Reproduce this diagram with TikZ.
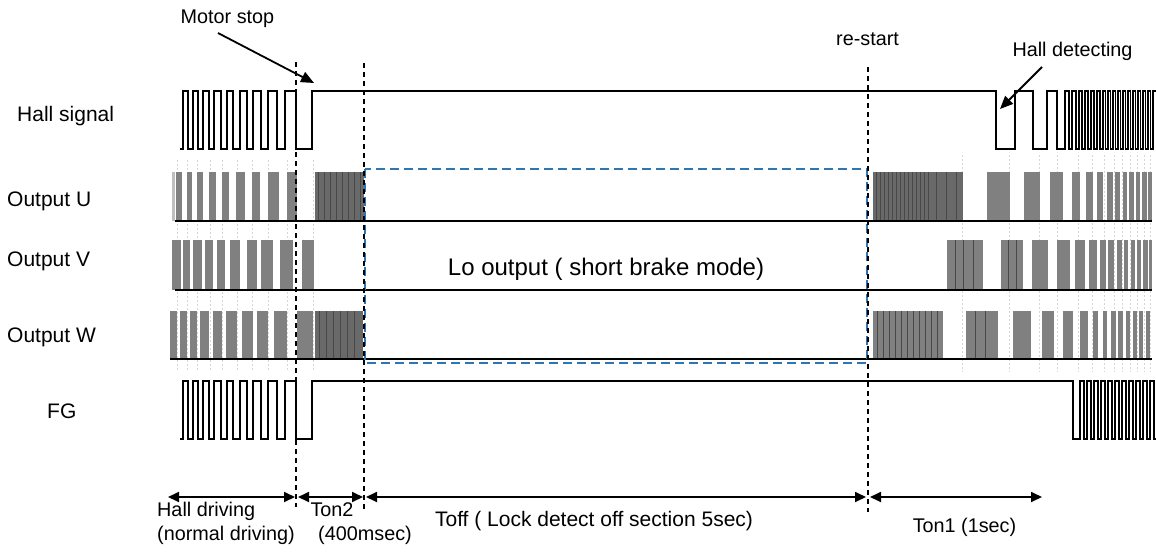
\documentclass[tikz,border=0pt]{standalone}
\usepackage{fontspec}
\setmainfont{Liberation Sans}
\usetikzlibrary{arrows.meta}
\definecolor{bluedash}{RGB}{46,117,182}
\definecolor{pwmgray}{RGB}{128,128,128}
\definecolor{densegray}{RGB}{105,105,105}
\definecolor{stripegray}{RGB}{72,72,72}
\begin{document}
\begin{tikzpicture}[x=1pt,y=-1pt,
 wave/.style={line width=1.25pt, line join=miter},
 baseln/.style={line width=1.5pt},
 vdash/.style={line width=1.2pt, dash pattern=on 5pt off 4pt},
 faint/.style={line width=0.8pt, black!16, dash pattern=on 1.5pt off 2.5pt},
 pwm/.style={fill=pwmgray},
 dense/.style={fill=densegray},
 stripe/.style={stripegray, line width=1pt},
 lbl/.style={font=\fontsize{21}{24}\selectfont, anchor=base west, inner sep=0pt},
 note/.style={font=\fontsize{19.8}{23}\selectfont, anchor=base, inner sep=0pt},
 notel/.style={font=\fontsize{19.8}{23}\selectfont, anchor=base west, inner sep=0pt},
 dimarrow/.style={line width=1.8pt, {Triangle[length=11pt,width=10pt]}-{Triangle[length=11pt,width=10pt]}},
 callout/.style={line width=1.8pt, -{Triangle[length=13pt,width=11pt]}},
 brake/.style={bluedash, line width=2.4pt, dash pattern=on 9pt off 5pt}
]
\useasboundingbox (0,0) rectangle (1156,552);
\fill[white] (0,0) rectangle (1156,552);

% faint dotted guide lines
\foreach \x in {177,187,197,210,222,237,252,268,287,313}
  \draw[faint] (\x,160) -- (\x,372);
\foreach \x in {962,1009,1039,1057,1078,1092,1104,1114,1122,1130,1137,1144,1150}
  \draw[faint] (\x,155) -- (\x,372);

% ---------- Output U ----------
\foreach \a/\b in {176/182,187/192,197/203,209/216,222/229,236/245,252/260,268/279,287/297,
  987/1010,1024/1040,1050/1063,1072/1080,1086/1093,1097/1103,1107/1113,1115/1120,1123/1127,
  1129/1134,1136/1140,1142/1147,1148/1152}
  \fill[pwm] (\a,172) rectangle (\b,221);
\fill[black!25] (172,172) rectangle (175,221);
\fill[dense] (315,172) rectangle (364,221);
\foreach \x in {318,324,...,360} \draw[stripe] (\x,172) -- (\x,221);
\fill[dense] (873,172) rectangle (963,221);
\foreach \x in {876,880,...,928} \draw[stripe] (\x,172) -- (\x,221);
\foreach \x in {936,946,956} \draw[stripe] (\x,172) -- (\x,221);

% ---------- Output V ----------
\foreach \a/\b in {172/181,183/190,193/202,205/213,217/225,230/240,247/257,261/273,280/293,302/314,
  947/983,1001/1023,1032/1048,1057/1070,1075/1085,1089/1097,1100/1106,1108/1114,1117/1122,
  1124/1128,1131/1135,1137/1141,1143/1148,1149/1152}
  \fill[pwm] (\a,240) rectangle (\b,290);
\foreach \x in {955,963,973,1008,1016} \draw[stripe] (\x,240) -- (\x,290);

% ---------- Output W ----------
\foreach \a/\b in {170/177,180/187,190/197,200/209,213/222,226/237,242/253,257/268,274/287,297/313,
  966/998,1013/1031,1042/1054,1063/1073,1080/1088,1093/1098,1103/1107,1111/1116,1118/1123,
  1126/1130,1133/1137,1139/1143,1146/1150}
  \fill[pwm] (\a,311) rectangle (\b,359);
\fill[dense] (315,311) rectangle (363,359);
\foreach \x in {319,326,...,360} \draw[stripe] (\x,311) -- (\x,359);
\fill[pwmgray] (873,311) rectangle (943,359);
\foreach \x in {877,883,...,940} \draw[stripe] (\x,311) -- (\x,359);
\foreach \x in {975,985} \draw[stripe] (\x,311) -- (\x,359);

% baselines of the outputs
\draw[baseln] (175,221) -- (1152,221);
\draw[baseln] (175,290) -- (1152,290);
\draw[baseln] (170,359) -- (1152,359);

% ---------- Hall signal ----------
\draw[wave] (180,149) -- (183,149) -- (183,91) -- (188,91) -- (188,149) -- (193,149) -- (193,91)
 -- (198,91) -- (198,149) -- (203,149) -- (203,91) -- (209,91) -- (209,149) -- (214,149)
 -- (214,91) -- (221,91) -- (221,149) -- (227,149) -- (227,91) -- (233,91) -- (233,149)
 -- (240,149) -- (240,91) -- (247,91) -- (247,149) -- (253,149) -- (253,91) -- (261,91)
 -- (261,149) -- (268,149) -- (268,91) -- (277,91) -- (277,149) -- (285,149) -- (285,91)
 -- (296,91) -- (296,149) -- (312,149) -- (312,91) -- (996,91) -- (996,149) -- (1015,149)
 -- (1015,91) -- (1033,91) -- (1033,149) -- (1047,149) -- (1047,91) -- (1057,91) -- (1057,149)
 foreach \r/\f in {1065/1069,1072/1076,1079/1082,1085/1088,1091/1094,1097/1100,1103/1105.5,
   1108/1110.5,1113/1115.5,1118/1120.5,1123/1125.5,1128/1130.5,1133/1135.5,1138/1140.5,
   1143/1145.5,1148/1150.5}
   { -- (\r,149) -- (\r,91) -- (\f,91) -- (\f,149) }
 -- (1153,149) -- (1153,91) -- (1156,91);

% ---------- FG ----------
\draw[wave] (180,439) -- (183,439) -- (183,381) -- (188,381) -- (188,439) -- (193,439) -- (193,381)
 -- (198,381) -- (198,439) -- (203,439) -- (203,381) -- (209,381) -- (209,439) -- (214,439)
 -- (214,381) -- (221,381) -- (221,439) -- (227,439) -- (227,381) -- (233,381) -- (233,439)
 -- (240,439) -- (240,381) -- (247,381) -- (247,439) -- (253,439) -- (253,381) -- (261,381)
 -- (261,439) -- (268,439) -- (268,381) -- (277,381) -- (277,439) -- (285,439) -- (285,381)
 -- (296,381) -- (296,439) -- (312,439) -- (312,381) -- (1073,381) -- (1073,439)
 foreach \r/\f in {1080/1084,1087/1091,1094/1098,1101/1105,1108/1112,1115/1119,1122/1126,
   1129/1133,1136/1140,1143/1147,1150/1154}
   { -- (\r,439) -- (\r,381) -- (\f,381) -- (\f,439) }
 -- (1156,439);

% ---------- blue dashed short-brake box ----------
\draw[brake] (365,169) rectangle (867,363);

% ---------- dashed time markers ----------
\coordinate (stopT) at (296,62);  \coordinate (stopB) at (296,507);
\coordinate (ton2T) at (364,63);  \coordinate (ton2B) at (364,510);
\coordinate (restT) at (868,67);  \coordinate (restB) at (868,512);
\draw[vdash] (stopT) -- (stopB);
\draw[vdash] (ton2T) -- (ton2B);
\draw[vdash] (restT) -- (restB);

% ---------- row labels ----------
\node[lbl] (lhall) at (17,121) {Hall signal};
\node[lbl] (lu) at (7,206) {Output U};
\node[lbl] (lv) at (7,266) {Output V};
\node[lbl] (lw) at (7,342) {Output W};
\node[lbl] (lfg) at (47,418) {FG};

% ---------- annotations ----------
\node[note] (motorstop) at (227.5,23) {Motor stop};
\node[note] (restart) at (867.5,45) {re-start};
\node[note] (halldet) at (1072.5,56) {Hall detecting};
\node[font=\fontsize{24}{28}\selectfont, anchor=base, inner sep=0pt] (lo) at (606,275) {Lo output ( short brake mode)};

\coordinate (msTail) at (218,33); \coordinate (msTip) at (314,83);
\draw[callout] (msTail) -- (msTip);
\coordinate (hdTail) at (1042,67); \coordinate (hdTip) at (1000,109);
\draw[callout] (hdTail) -- (hdTip);

% ---------- time-span arrows ----------
\coordinate (hdL) at (168,497); \coordinate (hdR) at (295,497);
\coordinate (t2L) at (298,497); \coordinate (t2R) at (363,497);
\coordinate (toL) at (366,497); \coordinate (toR) at (866,497);
\coordinate (t1L) at (870,497); \coordinate (t1R) at (1042,497);
\draw[dimarrow] (hdL) -- (hdR);
\draw[dimarrow] (t2L) -- (t2R);
\draw[dimarrow] (toL) -- (toR);
\draw[dimarrow] (t1L) -- (t1R);

\node[notel] (hdrive) at (157,516) {Hall driving};
\node[notel] (ndrive) at (157,540) {(normal driving)};
\node[note] (ton2) at (332,516) {Ton2};
\node[note] (ton2v) at (365,540) {(400msec)};
\node[note, font=\fontsize{21}{24}\selectfont] (toff) at (594,526) {Toff ( Lock detect off section 5sec)};
\node[note] (ton1) at (964.5,532) {Ton1 (1sec)};
\end{tikzpicture}
\end{document}
